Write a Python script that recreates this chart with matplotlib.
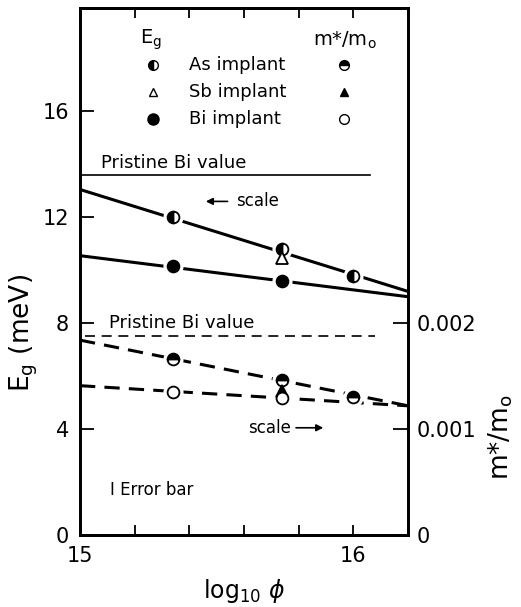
import matplotlib
matplotlib.use("Agg")
import matplotlib.pyplot as plt
import numpy as np

# log10 of dose for the three implant runs
dose = [15.34, 15.74, 16.0]

# energy gap (meV), left scale
eg_as = [12.0, 10.8, 9.8]
eg_sb = [10.45]
eg_bi = [10.15, 9.6]

# effective mass m*/m0, right scale
m_as = [0.00166, 0.00146, 0.0013]
m_sb = [0.00136]
m_bi = [0.00135, 0.00129]

# fitted trend lines (ends at x = 15 and 16.2)
fit_x = [15.0, 16.2]
fit_eg_as = [13.05, 9.2]
fit_eg_bi = [10.55, 9.0]
fit_m_as = [0.00184, 0.00122]
fit_m_bi = [0.00141, 0.00122]

pristine_eg = 13.6
pristine_m = 0.001875

fig = plt.figure(figsize=(5.21, 6.07), dpi=100)
ax = fig.add_axes([0.1536, 0.1186, 0.6296, 0.868])
ax2 = ax.twinx()

ax.set_xlim(15, 16.2)
ax.set_ylim(0, 19.9)
ax2.set_ylim(0, 19.9 / 4000)

lw = 2.2
ax.plot(fit_x, fit_eg_as, 'k-', lw=lw, zorder=2)
ax.plot(fit_x, fit_eg_bi, 'k-', lw=lw, zorder=2)
ax2.plot(fit_x, fit_m_as, 'k-', lw=lw, dashes=(5, 3), zorder=2)
ax2.plot(fit_x, fit_m_bi, 'k-', lw=lw, dashes=(5, 3), zorder=2)

ax.plot([15, 16.06], [pristine_eg, pristine_eg], 'k-', lw=1.2)
ax2.plot([15.02, 16.08], [pristine_m, pristine_m], 'k-', lw=1.2, dashes=(6, 4))

ms = 8.5
series = [
    (ax, dose, eg_as, 'o', dict(fillstyle='left', mfc='k', mfcalt='white')),
    (ax, dose[1:2], eg_sb, '^', dict(mfc='white')),
    (ax, dose[:2], eg_bi, 'o', dict(mfc='k')),
    (ax2, dose, m_as, 'o', dict(fillstyle='top', mfc='k', mfcalt='white')),
    (ax2, dose[1:2], m_sb, '^', dict(mfc='k')),
    (ax2, dose[:2], m_bi, 'o', dict(mfc='white')),
]
# white halos first so the lines break around the symbols
for a, x, y, m, kw in series:
    a.plot(x, y, m, ls='none', ms=ms + 5, mfc='white', mec='white', zorder=3)
for a, x, y, m, kw in series:
    a.plot(x, y, m, ls='none', ms=ms, color='k', mec='k', mew=1.3, zorder=4, **kw)

# legend drawn in data coordinates
leg_rows = [17.74, 16.75, 15.7]
leg_names = ['As implant', 'Sb implant', 'Bi implant']
ax.text(15.26, 18.7, 'E$_\\mathregular{g}$', fontsize=14, ha='center', va='center')
ax.text(15.97, 18.7, 'm*/m$_\\mathregular{o}$', fontsize=14, ha='center', va='center')
ax.plot(15.268, leg_rows[0], 'o', ms=7, fillstyle='left', color='k', mfcalt='white')
ax.plot(15.268, leg_rows[1], '^', ms=6, mfc='white', mec='k')
ax.plot(15.268, leg_rows[2], 'o', ms=8, color='k')
ax.plot(15.967, leg_rows[0], 'o', ms=7, fillstyle='top', color='k', mfcalt='white')
ax.plot(15.967, leg_rows[1], '^', ms=6, color='k')
ax.plot(15.967, leg_rows[2], 'o', ms=7, mfc='white', mec='k')
for r, n in zip(leg_rows, leg_names):
    ax.text(15.40, r, n, fontsize=13, va='center')

ax.text(15.075, 14.05, 'Pristine Bi value', fontsize=13, va='center')
ax.text(15.105, 8.0, 'Pristine Bi value', fontsize=13, va='center')
ax.annotate('', xy=(15.45, 12.6), xytext=(15.55, 12.6),
            arrowprops=dict(arrowstyle='-|>', color='k', lw=1.2))
ax.text(15.57, 12.6, 'scale', fontsize=12, va='center')
ax.text(15.77, 4.05, 'scale', fontsize=12, va='center', ha='right')
ax.annotate('', xy=(15.90, 4.05), xytext=(15.78, 4.05),
            arrowprops=dict(arrowstyle='-|>', color='k', lw=1.2))
ax.text(15.11, 1.7, 'I Error bar', fontsize=12, va='center')

for a in (ax, ax2):
    for s in a.spines.values():
        s.set_linewidth(2)

ax.set_yticks([0, 4, 8, 12, 16])
ax.set_xticks([15, 16])
ax.set_xticks(np.arange(15.2, 16.2, 0.2), minor=True)
ax.tick_params(axis='y', direction='in', length=10, width=1.3, labelsize=15, pad=8)
ax.tick_params(axis='x', which='both', direction='in', top=True, length=7, width=1.3,
               labelsize=15, pad=8)
ax2.set_yticks([0, 0.001, 0.002])
ax2.set_yticklabels(['0', '0.001', '0.002'])
ax2.tick_params(axis='y', direction='in', length=11, width=1.3, labelsize=15, pad=6)

fig.text(0.045, 0.451, 'E$_\\mathregular{g}$ (meV)', fontsize=19, rotation=90,
         ha='center', va='center')
ax.set_xlabel('log$_\\mathregular{10}$ $\\phi$', fontsize=17, labelpad=8)
fig.text(0.962, 0.28, 'm*/m$_\\mathregular{o}$', fontsize=19, rotation=90,
         ha='center', va='center')

fig.savefig('out.png', dpi=100)
